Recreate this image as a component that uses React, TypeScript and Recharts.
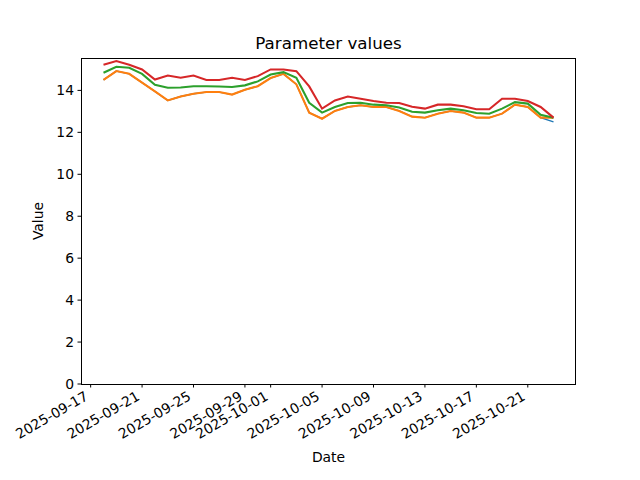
import { LineChart, Line, XAxis, YAxis } from "recharts";

const dates = [
  "2025-09-18", "2025-09-19", "2025-09-20", "2025-09-21", "2025-09-22", "2025-09-23",
  "2025-09-24", "2025-09-25", "2025-09-26", "2025-09-27", "2025-09-28", "2025-09-29",
  "2025-09-30", "2025-10-01", "2025-10-02", "2025-10-03", "2025-10-04", "2025-10-05",
  "2025-10-06", "2025-10-07", "2025-10-08", "2025-10-09", "2025-10-10", "2025-10-11",
  "2025-10-12", "2025-10-13", "2025-10-14", "2025-10-15", "2025-10-16", "2025-10-17",
  "2025-10-18", "2025-10-19", "2025-10-20", "2025-10-21", "2025-10-22", "2025-10-23",
];

// blue is drawn first and mostly hidden under the others
const blueValues = [
  14.5, 14.92, 14.79, 14.37, 13.95, 13.52, 13.71, 13.84, 13.92, 13.92, 13.8, 14.03,
  14.2, 14.59, 14.79, 14.29, 12.94, 12.65, 13.02, 13.21, 13.29, 13.21, 13.21, 13.02,
  12.75, 12.7, 12.89, 13.02, 12.94, 12.7, 12.7, 12.89, 13.32, 13.21, 12.7, 12.5,
];
const orangeValues = [
  14.5, 14.92, 14.79, 14.37, 13.95, 13.52, 13.71, 13.84, 13.92, 13.92, 13.8, 14.03,
  14.2, 14.59, 14.79, 14.29, 12.94, 12.65, 13.02, 13.21, 13.29, 13.21, 13.21, 13.02,
  12.75, 12.7, 12.89, 13.02, 12.94, 12.7, 12.7, 12.89, 13.32, 13.21, 12.7, 12.7,
];
const greenValues = [
  14.84, 15.13, 15.08, 14.79, 14.27, 14.13, 14.14, 14.2, 14.2, 14.19, 14.16, 14.24,
  14.43, 14.76, 14.87, 14.6, 13.41, 12.94, 13.21, 13.4, 13.41, 13.32, 13.29, 13.18,
  12.98, 12.94, 13.05, 13.13, 13.05, 12.92, 12.89, 13.13, 13.44, 13.37, 12.84, 12.7,
];
const redValues = [
  15.22, 15.4, 15.22, 15.0, 14.52, 14.71, 14.6, 14.71, 14.5, 14.5, 14.6, 14.5,
  14.68, 15.0, 15.0, 14.92, 14.19, 13.13, 13.52, 13.71, 13.6, 13.49, 13.41, 13.4,
  13.22, 13.13, 13.32, 13.32, 13.24, 13.1, 13.1, 13.6, 13.6, 13.49, 13.21, 12.7,
];

const xTickLabels = [
  "2025-09-17", "2025-09-21", "2025-09-25", "2025-09-29", "2025-10-01",
  "2025-10-05", "2025-10-09", "2025-10-13", "2025-10-17", "2025-10-21",
];
const yTicks = [0, 2, 4, 6, 8, 10, 12, 14];

const toMs = (s: string) => Date.parse(s + "T00:00:00Z");

const data = dates.map((d, i) => ({
  t: toMs(d),
  blue: blueValues[i],
  orange: orangeValues[i],
  green: greenValues[i],
  red: redValues[i],
}));

const tMin = toMs(dates[0]);
const tMax = toMs(dates[dates.length - 1]);
const xPad = (tMax - tMin) * 0.05;

const allVals = [...blueValues, ...orangeValues, ...greenValues, ...redValues];
const vMax = Math.max(...allVals);
const vMin = Math.min(...allVals);
const yTop = vMax + (vMax - vMin) * 0.05;

const FONT = "DejaVu Sans, sans-serif";
const LW = 2.08;

function fmt(ms: number) {
  return new Date(ms).toISOString().slice(0, 10);
}

function DateTick(props: any) {
  const { x, y, payload } = props;
  return (
    <g transform={`translate(${x - 1.5},${y + 8})`}>
      <text textAnchor="end" transform="rotate(-30)" fontSize={13.9} fill="#000" fontFamily={FONT}>
        {fmt(payload.value)}
      </text>
    </g>
  );
}

export default function App() {
  return (
    <div style={{ position: "absolute", left: 0, top: 0, width: 640, height: 480, background: "#fff", fontFamily: FONT }}>
      <LineChart width={640} height={480} data={data} margin={{ top: 58, right: 64, bottom: 0, left: 0 }}>
        <XAxis
          dataKey="t"
          type="number"
          domain={[tMin - xPad, tMax + xPad]}
          ticks={xTickLabels.map(toMs)}
          tick={<DateTick />}
          tickSize={3.5}
          tickMargin={3.5}
          tickLine={{ stroke: "#000" }}
          axisLine={false}
          height={96}
          interval={0}
          allowDataOverflow
        />
        <YAxis
          type="number"
          domain={[0, yTop]}
          ticks={yTicks}
          width={81}
          tickSize={3.5}
          tickMargin={3.5}
          tickLine={{ stroke: "#000" }}
          axisLine={false}
          tick={{ fontSize: 13.9, fill: "#000", fontFamily: FONT }}
          interval={0}
          allowDataOverflow
        />
        <Line type="linear" dataKey="blue" stroke="#1f77b4" strokeWidth={1.4} dot={false} isAnimationActive={false} />
        <Line type="linear" dataKey="orange" stroke="#ff7f0e" strokeWidth={LW} dot={false} isAnimationActive={false} />
        <Line type="linear" dataKey="green" stroke="#2ca02c" strokeWidth={LW} dot={false} isAnimationActive={false} />
        <Line type="linear" dataKey="red" stroke="#d62728" strokeWidth={LW} dot={false} isAnimationActive={false} />
      </LineChart>
      <div style={{ position: "absolute", left: 81, top: 58, width: 495, height: 327, boxSizing: "border-box", border: "1px solid #000", pointerEvents: "none" }} />
      <div style={{ position: "absolute", left: 81, width: 495, top: 33, lineHeight: "20px", textAlign: "center", fontSize: 16.7, color: "#000" }}>
        Parameter values
      </div>
      <div style={{ position: "absolute", left: 81, width: 495, top: 447, lineHeight: "20px", textAlign: "center", fontSize: 13.9, color: "#000" }}>
        Date
      </div>
      <div style={{ position: "absolute", left: 38, top: 221, transform: "translate(-50%, -50%) rotate(-90deg)", fontSize: 13.9, lineHeight: "20px", color: "#000", whiteSpace: "nowrap" }}>
        Value
      </div>
    </div>
  );
}
